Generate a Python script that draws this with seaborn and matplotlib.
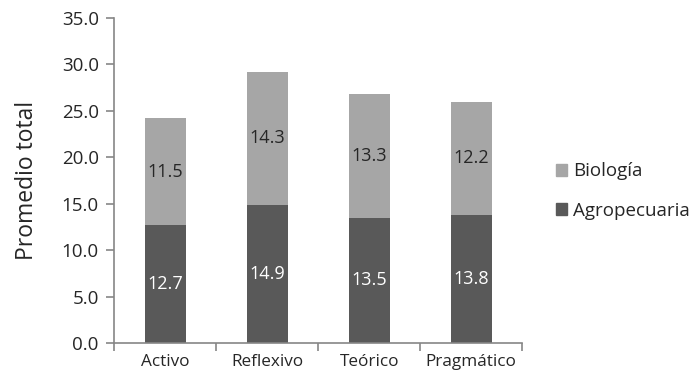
import matplotlib
matplotlib.use('Agg')
import matplotlib.pyplot as plt
import matplotlib.patches as mpatches
import seaborn as sns
import numpy as np
import pandas as pd

# datos
estilos = ['Activo', 'Reflexivo', 'Teórico', 'Pragmático']
agropecuaria = [12.7, 14.9, 13.5, 13.8]
biologia = [11.5, 14.3, 13.3, 12.2]

COLOR_AGRO = '#595959'
COLOR_BIO = '#a6a6a6'
EJE = '#868686'

sns.set_style('white')
plt.rcParams['font.family'] = ['Open Sans', 'DejaVu Sans']

df = pd.DataFrame({'estilo': estilos, 'agro': agropecuaria, 'bio': biologia})
df['total'] = df['agro'] + df['bio']

fig = plt.figure(figsize=(7, 3.82), dpi=100)
ax = fig.add_axes([0.163, 0.102, 0.583, 0.851])

# barra total (Biología arriba) y luego Agropecuaria encima
sns.barplot(data=df, x='estilo', y='total', color=COLOR_BIO, width=0.4,
            saturation=1, ax=ax, linewidth=0)
sns.barplot(data=df, x='estilo', y='agro', color=COLOR_AGRO, width=0.4,
            saturation=1, ax=ax, linewidth=0)

for i, row in df.iterrows():
    ax.text(i, row['agro'] / 2, f"{row['agro']:.1f}", ha='center', va='center',
            color='white', fontsize=13)
    ax.text(i, row['agro'] + row['bio'] / 2, f"{row['bio']:.1f}", ha='center',
            va='center', color='#262626', fontsize=13)

ax.set_ylim(0, 35)
ax.set_xlim(-0.5, 3.5)
ax.set_yticks(np.arange(0, 35.1, 5))
ax.set_yticklabels([f'{v:.1f}' for v in np.arange(0, 35.1, 5)])
ax.set_xlabel('')
ax.set_ylabel('Promedio total', fontsize=16.5, color='#262626', labelpad=16)

for s in ['top', 'right']:
    ax.spines[s].set_visible(False)
for s in ['left', 'bottom']:
    ax.spines[s].set_color(EJE)
    ax.spines[s].set_linewidth(1.2)

ax.tick_params(axis='y', direction='out', length=6, color=EJE, width=1.2,
               labelsize=13.5, labelcolor='#262626', left=True, pad=5)
ax.tick_params(axis='x', length=0, labelsize=12.3, labelcolor='#262626', pad=8)
# marcas entre categorías
ax.set_xticks([-0.5, 0.5, 1.5, 2.5, 3.5], minor=True)
ax.tick_params(axis='x', which='minor', direction='out', length=6, color=EJE,
               width=1.2, bottom=True)

handles = [mpatches.Patch(color=COLOR_BIO, label='Biología'),
           mpatches.Patch(color=COLOR_AGRO, label='Agropecuaria')]
fig.legend(handles=handles, loc='center left', bbox_to_anchor=(0.77, 0.5),
           frameon=False, fontsize=13.5, handlelength=0.6, handleheight=0.6,
           handletextpad=0.3, labelspacing=1.15, labelcolor='#262626')

fig.savefig('out.png', dpi=100)
